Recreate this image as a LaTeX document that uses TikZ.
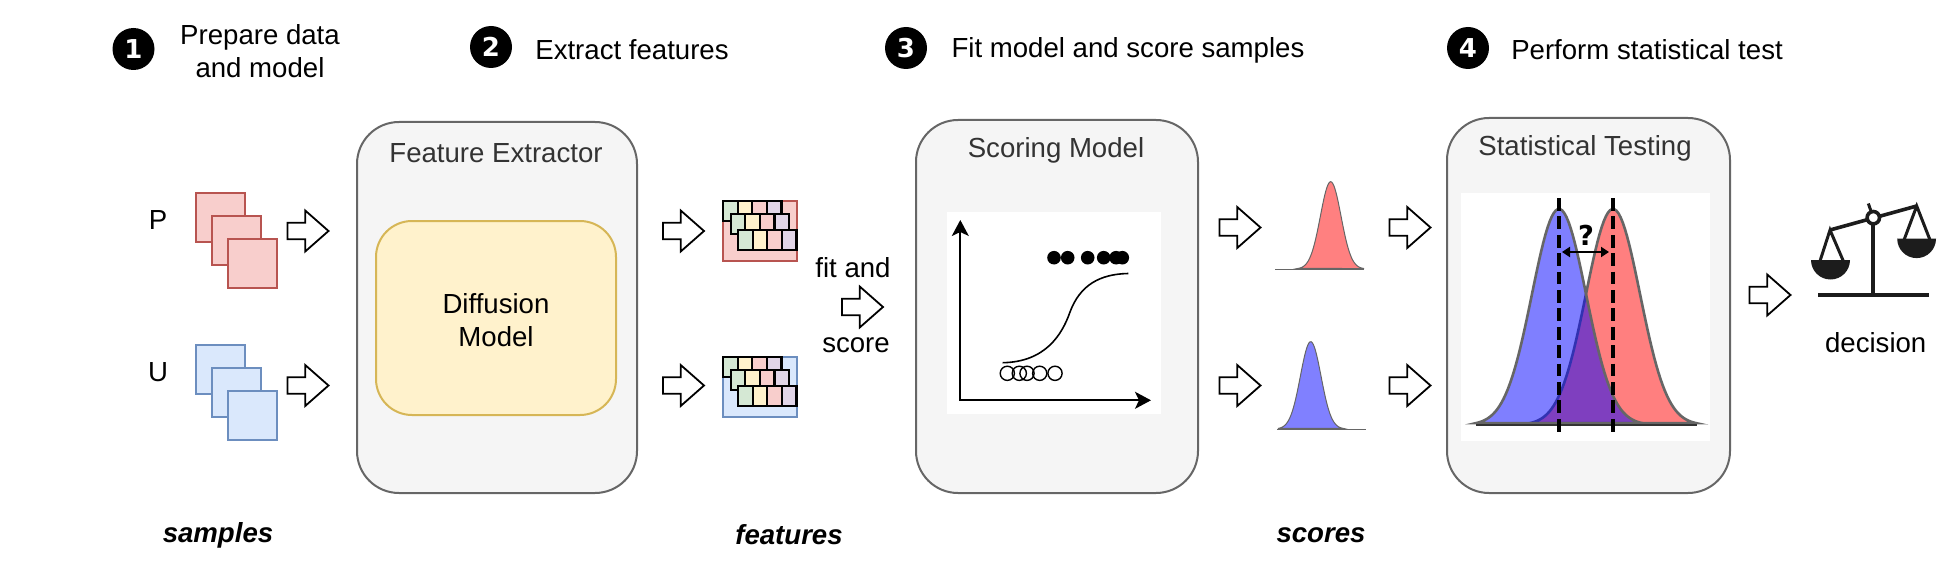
\documentclass[tikz,border=0pt]{standalone}
\usepackage{fontspec}
\setmainfont{Liberation Sans}
\newfontfamily\dejavu{DejaVu Sans}
\usetikzlibrary{arrows.meta,calc}
\definecolor{redfill}{HTML}{F8CECC}\definecolor{redline}{HTML}{B85450}
\definecolor{bluefill}{HTML}{DAE8FC}\definecolor{blueline}{HTML}{6C8EBF}
\definecolor{greenfill}{HTML}{D5E8D4}\definecolor{yellowfill}{HTML}{FFF2CC}
\definecolor{yellowline}{HTML}{D6B656}\definecolor{purplefill}{HTML}{E1D5E7}
\definecolor{panel}{HTML}{F5F5F5}\definecolor{panelline}{HTML}{666666}
\definecolor{titlegray}{HTML}{333333}\definecolor{iconblack}{HTML}{1C1C1C}
\tikzset{
  lbl/.style={font=\fontsize{13.8}{16}\selectfont,inner sep=0pt,align=center,text=black},
  boxtitle/.style={lbl,text=titlegray},
  bottomlbl/.style={lbl,font=\fontsize{13.8}{16}\selectfont\bfseries\itshape},
  stepnum/.style={circle,fill=black,text=white,minimum size=21pt,inner sep=0pt,font=\dejavu\bfseries\fontsize{13}{14}\selectfont},
  bigbox/.style={draw=panelline,fill=panel,line width=1pt,rounded corners=21pt},
  redsq/.style={draw=redline,fill=redfill,line width=1pt},
  bluesq/.style={draw=blueline,fill=bluefill,line width=1pt},
  cell/.style={draw=black,line width=1.1pt},
  curve/.style={draw=panelline,line width=0.5pt},
  bigcurve/.style={draw=panelline,line width=1.3pt},
  dashline/.style={black,line width=1.7pt,dash pattern=on 6.4pt off 2.8pt},
}
\newcommand{\blockarrow}[2]{%
  \draw[black,line width=0.9pt,fill=white,line join=miter]
    ($(#1,#2)+(0,-8.2)$) -- ++(17.7,0) -- ++(0,-12.3) -- ++(23.3,20.5) -- ++(-23.3,20.5) -- ++(0,-12.3) -- ++(-17.7,0) -- cycle;}
\newcommand{\cellrow}[2]{%
  \draw[cell,fill=greenfill] (#1,#2) rectangle ++(14.6,20);
  \draw[cell,fill=yellowfill] ($(#1,#2)+(14.6,0)$) rectangle ++(14.6,20);
  \draw[cell,fill=redfill] ($(#1,#2)+(29.2,0)$) rectangle ++(14.6,20);
  \draw[cell,fill=purplefill] ($(#1,#2)+(43.8,0)$) rectangle ++(14.6,20);}
\newcommand{\cellstack}[2]{%
  \cellrow{#1}{#2}\cellrow{#1+7.7}{#2+13.3}\cellrow{#1+15}{#2+28.6}}
\begin{document}
\begin{tikzpicture}[x=0.5pt,y=-0.5pt]
\useasboundingbox (0,0) rectangle (1939,567);
% headings
\node[stepnum] (n1) at (133.5,49) {1};
\node[lbl] (h1) at (260,51.5) {Prepare data\\[0.4pt]and model};
\node[stepnum] (n2) at (491,47) {2};
\node[lbl] (h2) at (632,50) {Extract features};
\node[stepnum] (n3) at (906,48) {3};
\node[lbl] (h3) at (1128,50) {Fit model and score samples};
\node[stepnum] (n4) at (1468,48) {4};
\node[lbl] (h4) at (1647,50) {Perform statistical test};
% samples
\node[lbl] (P) at (158,220) {P};
\node[lbl] (U) at (158,372) {U};
\foreach \d in {0,16,32}{
  \draw[redsq] (196+\d,193+1.45*\d) rectangle ++(49,49);
  \draw[bluesq] (196+\d,345+1.45*\d) rectangle ++(49,49);
}
\blockarrow{287.5}{231}
\blockarrow{287.5}{385.5}
% feature extractor
\draw[bigbox] (357,122) rectangle (637,493);
\node[boxtitle] (fe) at (496,153) {Feature Extractor};
\draw[draw=yellowline,fill=yellowfill,line width=1pt,rounded corners=18pt] (376,221) rectangle (616,415);
\node[lbl] (dm) at (496,320) {Diffusion\\[0.5pt]Model};
% features
\blockarrow{663}{231}
\blockarrow{663}{385.5}
\draw[redsq] (723,201) rectangle (797,261);
\cellstack{723}{201}
\draw[bluesq] (723,357) rectangle (797,417);
\cellstack{723}{357}
\node[lbl] (fit) at (853,268) {fit and};
\blockarrow{842}{307}
\node[lbl] (score) at (856,345) {score};
% scoring model
\draw[bigbox] (916,120) rectangle (1198,493);
\node[boxtitle] (sm) at (1056,150) {Scoring Model};
\fill[white] (947,212) rectangle (1161,414);
\draw[line width=1pt,-{Stealth[length=8pt,width=8.5pt,inset=2pt]}] (960.3,400.3) -- (960.3,220);
\draw[line width=1pt,-{Stealth[length=8pt,width=8.5pt,inset=2pt]}] (959.3,400.3) -- (1151,400.3);
\foreach \c in {1054,1067.7,1087.7,1103.7,1116,1122.3}
  \fill[black] (\c,257.7) circle[radius=3.4pt];
\foreach \c in {1007.3,1019.3,1027,1039.7,1055}
  \draw[black,line width=0.7pt] (\c,373.3) circle[radius=3.55pt];
\draw[black,line width=0.8pt] (1002.7,362.7) .. controls (1045,362) and (1062,335) .. (1070,312)
   .. controls (1080,285) and (1100,274) .. (1128.3,273.5);
% scores
\blockarrow{1219.5}{227.5}
\blockarrow{1219.5}{385.5}
\blockarrow{1389.5}{227.5}
\blockarrow{1389.5}{385.5}
\draw[curve,fill=red!50] plot[domain=1298:1364,samples=60] (\x,{269-87.3*exp(-0.5*((\x-1330.7)/10.3)^2)}) -- cycle;
\draw[curve] (1275,269) -- (1364.3,269);
\draw[curve,fill=blue!50] plot[domain=1278:1343,samples=60] (\x,{429-87.3*exp(-0.5*((\x-1310.7)/10.3)^2)}) -- cycle;
\draw[curve] (1277.3,429) -- (1366,429);
% statistical testing
\draw[bigbox] (1447,118) rectangle (1730,493);
\node[boxtitle] (st) at (1585,148) {Statistical Testing};
\fill[white] (1461,193) rectangle (1710,440.5);
\draw[bigcurve,fill=red,fill opacity=0.5] plot[domain=1530:1696.5,samples=80] (\x,{425-216*exp(-0.5*((\x-1613)/27)^2)}) -- cycle;
\draw[bigcurve,fill=blue,fill opacity=0.5] plot[domain=1476:1642,samples=80] (\x,{425-216*exp(-0.5*((\x-1559)/27)^2)}) -- cycle;
\draw[black!80,line width=1.3pt] (1476,425) -- (1696.5,425);
\draw[dashline] (1559,198) -- (1559,436);
\draw[dashline] (1613,198) -- (1613,436);
\draw[black,line width=1.3pt,{Stealth[length=4pt,width=5pt,inset=0pt]}-{Stealth[length=4pt,width=5pt,inset=0pt]}] (1562,252) -- (1609,252);
\node[inner sep=0pt,font=\dejavu\bfseries\fontsize{13.7}{14}\selectfont] (q) at (1586,235) {?};
% decision
\blockarrow{1749.5}{295}
\draw[iconblack,line width=2.3pt] (1818.3,295) -- (1928.7,295);
\draw[iconblack,line width=2pt] (1873.3,217) -- (1873.3,295);
\draw[iconblack,line width=1.8pt,line join=miter] (1830,230) -- (1916.7,206);
\draw[iconblack,line width=1.5pt] (1868.3,203.5) -- (1873.3,217.7);
\draw[iconblack,line width=1.5pt] (1820,261) -- (1830,230) -- (1843.3,261);
\draw[iconblack,line width=1.5pt] (1904,240) -- (1916.7,206) -- (1930,240);
\fill[iconblack] (1811,260) -- (1850,260) arc[start angle=0,end angle=-180,radius=9.75pt] -- cycle;
\fill[iconblack] (1897.3,238.7) -- (1936,238.7) arc[start angle=0,end angle=-180,radius=9.7pt] -- cycle;
\draw[iconblack,line width=1.8pt,fill=white] (1873.3,217.7) circle[radius=3.1pt];
\node[lbl] (dec) at (1875.7,343) {decision};
% bottom labels
\node[bottomlbl] (b1) at (218,535) {samples};
\node[bottomlbl] (b2) at (789,535) {features};
\node[bottomlbl] (b3) at (1321,535) {scores};
\end{tikzpicture}
\end{document}
